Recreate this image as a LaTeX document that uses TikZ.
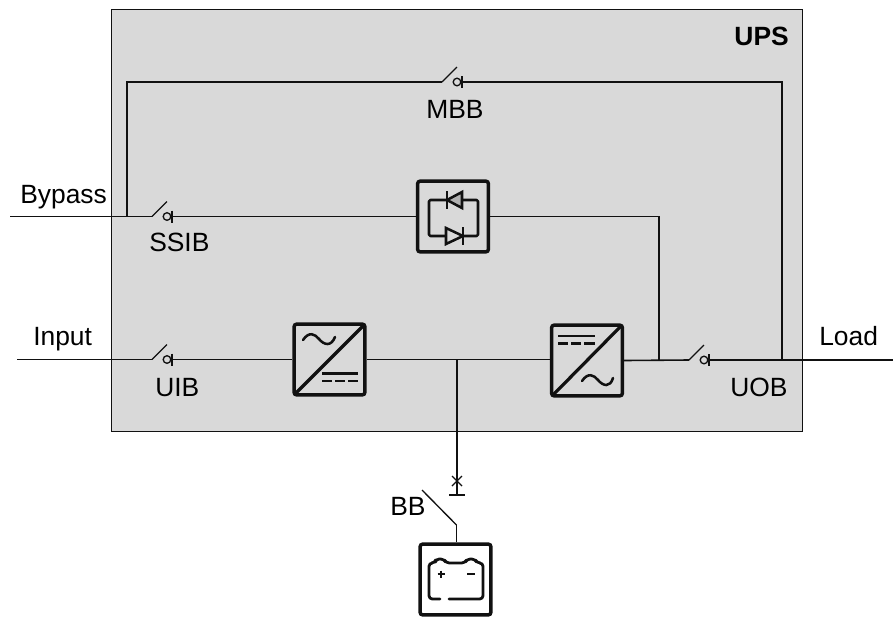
\documentclass[tikz,border=0pt]{standalone}
\usepackage{fontspec}
\setmainfont{Liberation Sans}
\definecolor{upsgrey}{HTML}{D9D9D9}
\definecolor{inkc}{HTML}{111111}
\tikzset{
  px/.style={x=0.75pt,y=-0.75pt},
  wire/.style={draw=inkc,line width=1.2pt},
  diag/.style={draw=inkc,line width=2.4pt,line cap=butt},
  fine/.style={draw=inkc,line width=1.9pt},
  symbolbox/.style={draw=inkc,line width=2.6pt,rounded corners=1.8pt,minimum size=53pt,inner sep=0pt,fill=none},
  batbox/.style={symbolbox},
  lbl/.style={font=\fontsize{19.8}{22}\selectfont,inner sep=0pt,text=black},
  ctswitch/.pic={
    \coordinate (-in) at (0,0);
    \coordinate (-out) at (20,0);
    \draw[draw=inkc,line width=1pt] (0,0) -- (15,-15);
    \draw[draw=inkc,line width=1pt] (15,0) circle[radius=3.8];
    \draw[draw=inkc,line width=1pt] (20,-6) -- (20,6);
  }
}
\begin{document}
\begin{tikzpicture}[px]
\useasboundingbox (0,0) rectangle (893,619);
\fill[white] (0,0) rectangle (893,619);
\node[draw=inkc,fill=upsgrey,line width=0.7pt,minimum width=518pt,minimum height=316.5pt,inner sep=0pt,anchor=north west] (ups) at (111,9) {};

% symbol boxes
\node[symbolbox] (ssb) at (453,216.5) {};
\node[symbolbox] (rect) at (329.5,359.5) {};
\node[symbolbox] (inv) at (587,360.5) {};
\node[batbox] (bat) at (455.5,579.5) {};

% switches
\pic (mbb) at (442,82) {ctswitch};
\pic (ssib) at (152,216.5) {ctswitch};
\pic (uib) at (152,359.5) {ctswitch};
\pic (uob) at (689,360) {ctswitch};

% free ends and junctions
\coordinate (bypassend) at (10,216.5);
\coordinate (inputend) at (17,359.5);
\coordinate (loadend) at (893,360);
\coordinate (bpjoin) at (127,216.5);
\coordinate (bptop) at (127,82);
\coordinate (mbbtop) at (782,82);
\coordinate (mbbjoin) at (782,360);
\coordinate (ssbturn) at (659,216.5);
\coordinate (ssbjoin) at (659,360);
\coordinate (dcjoin) at (457,359.5);
\coordinate (fusebar) at (457,495);
\coordinate (bbtop) at (456.5,525);
\coordinate (bbblade) at (422,490);

% wires
\draw[wire] (bypassend) -- (ssib-in);
\draw[wire] (bpjoin) -- (bptop) -- (mbb-in);
\draw[wire] (mbb-out) -- (mbbtop) -- (mbbjoin);
\draw[wire] (ssib-out) -- (ssb.west);
\draw[wire] (ssb.east) -- (ssbturn) -- (ssbjoin);
\draw[wire] (inputend) -- (uib-in);
\draw[wire] (uib-out) -- (rect.west);
\draw[wire] (rect.east) -- (inv.west |- rect.east);
\draw[wire] (inv.east) -- (uob-in);
\draw[wire] (uob-out) -- (loadend);
\draw[wire] (dcjoin) -- (fusebar);
\draw[wire] (fusebar) ++(-8,0) -- ++(16,0);
\draw[wire,line width=1pt] (452,476) -- (462,486) (462,476) -- (452,486);
\draw[wire,line width=1pt] (bbblade) -- (bbtop);
\draw[wire] (bbtop) -- (bat.north -| bbtop);

% static switch diodes
\draw[fine,line join=round,rounded corners=1pt] (447,200) -- (429,200) -- (429,236) -- (446,236);
\draw[fine,line join=round,rounded corners=1pt] (462,200) -- (478,200) -- (478,236) -- (463,236);
\draw[fine,fill=gray!60,line join=miter] (447,200) -- (462,192) -- (462,208) -- cycle;
\draw[fine] (447,191) -- (447,209);
\draw[fine,line join=miter] (463,236) -- (446,228) -- (446,244) -- cycle;
\draw[fine] (463,227) -- (463,245);

% rectifier symbol
\draw[diag] (294,395) -- (365,324);
\draw[fine,line cap=round] (303,340) .. controls (309,331) and (315,334) .. (319,339) .. controls (324,345) and (331,347) .. (335,337);
\draw[fine] (322,373.5) -- (358,373.5);
\draw[fine] (322,381) -- (332,381) (335,381) -- (345,381) (348,381) -- (358,381);

% inverter symbol
\draw[diag] (552,396) -- (622,325);
\draw[fine,line cap=round] (582,381) .. controls (588,372) and (594,375) .. (598,380) .. controls (603,386) and (610,388) .. (613,378);
\draw[fine] (558,336) -- (595,336);
\draw[fine] (558,343.5) -- (568,343.5) (571,343.5) -- (581,343.5) (584,343.5) -- (595,343.5);

% battery symbol
\draw[fine,line width=2.1pt,line cap=round,line join=round,rounded corners=2.5pt]
  (440,599) -- (429,599) -- (429,563) -- (435,563) -- (436,559) -- (444,559) -- (446,563) -- (465,563) -- (467,559) -- (475,559) -- (477,563) -- (483,563) -- (483,599) -- (449,599);
\draw[fine,line width=1.7pt] (437.5,574) -- (444.5,574) (441,570.5) -- (441,577.5);
\draw[fine,line width=1.7pt] (467,574) -- (475,574);

% labels
\node[lbl,font=\fontsize{19.8}{22}\selectfont\bfseries,anchor=east] (upsl) at (789,36) {UPS};
\node[lbl,anchor=base west] (bypassl) at (20,203) {Bypass};
\node[lbl,anchor=base west] (inputl) at (33,345) {Input};
\node[lbl,anchor=base west] (loadl) at (819,345) {Load};
\node[lbl,anchor=base west] (mbbl) at (426,118) {MBB};
\node[lbl,anchor=base west] (ssibl) at (149,251) {SSIB};
\node[lbl,anchor=base west] (uibl) at (155,396) {UIB};
\node[lbl,anchor=base west] (uobl) at (730,396) {UOB};
\node[lbl,anchor=base west] (bbl) at (390,515) {BB};
\end{tikzpicture}
\end{document}
